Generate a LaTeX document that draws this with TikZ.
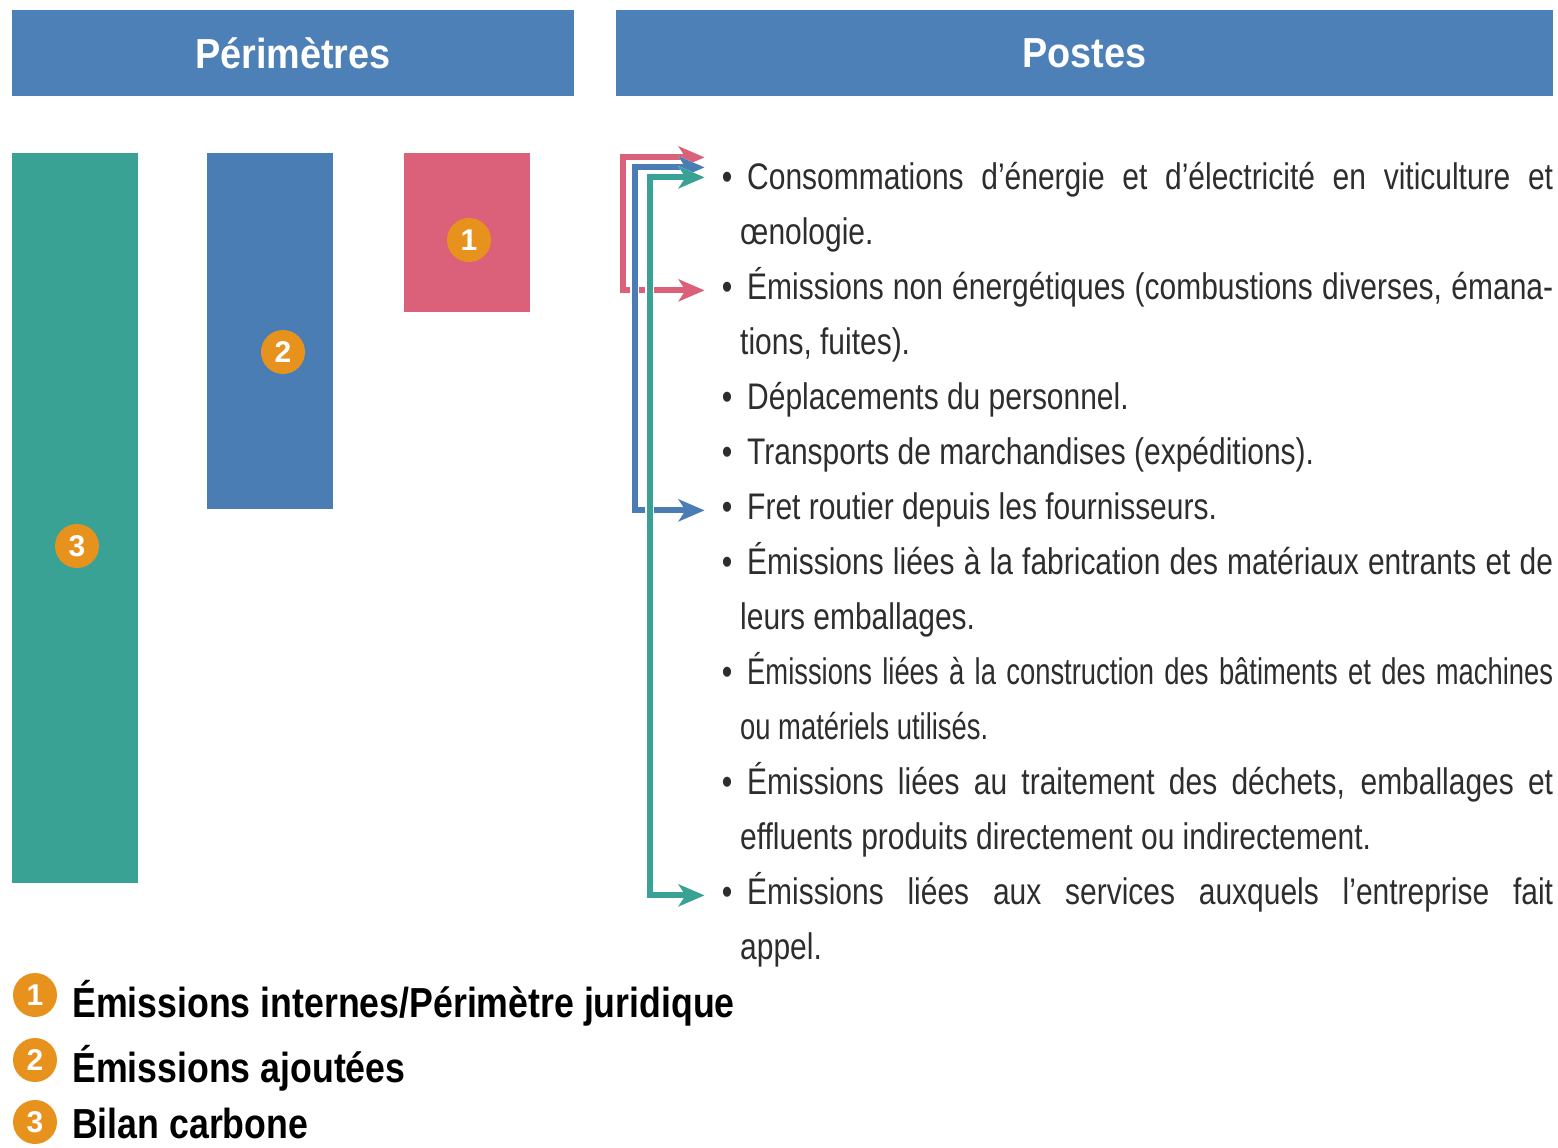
\documentclass[tikz,border=0pt]{standalone}
\usepackage{fontspec}
\setmainfont{Liberation Sans}
\newfontfamily\bodyfont[FakeStretch=0.81]{Liberation Sans}
\newfontfamily\tightfont[FakeStretch=0.74]{Liberation Sans}
\newfontfamily\headfont[FakeStretch=0.9]{Liberation Sans}
\newfontfamily\legfont[FakeStretch=0.85]{Liberation Sans}
\usetikzlibrary{arrows.meta}

\definecolor{headblue}{RGB}{77,128,183}
\definecolor{barblue}{RGB}{74,125,180}
\definecolor{barteal}{RGB}{58,161,149}
\definecolor{barpink}{RGB}{218,97,121}
\definecolor{badgeorange}{RGB}{232,146,30}
\definecolor{bodygray}{RGB}{45,45,45}

\tikzset{
  head/.style={fill=headblue, text=white, inner sep=0pt, minimum height=86pt,
    font=\headfont\bfseries\fontsize{42}{46}\selectfont},
  bar/.style={inner sep=0pt, minimum width=126pt},
  badge/.style={circle, fill=badgeorange, text=white, inner sep=0pt, minimum size=44pt,
    font=\bfseries\fontsize{30}{30}\selectfont},
  bul/.style={anchor=base, inner sep=0pt, text=bodygray, font=\bodyfont\fontsize{37}{55}\selectfont},
  poste/.style={anchor=base west, inner sep=0pt, text width=813pt, align=justify, text=bodygray,
    font=\bodyfont\fontsize{37}{55}\selectfont},
  legtext/.style={anchor=base west, inner sep=0pt, font=\legfont\bfseries\fontsize{42}{46}\selectfont},
  arr/.style={draw=#1, line width=6pt, line join=miter,
    {Stealth[length=26pt,width=22pt,inset=7pt]}-{Stealth[length=26pt,width=22pt,inset=7pt]},
    preaction={draw=white, line width=9pt}}
}

\begin{document}
\begin{tikzpicture}[x=1pt, y=-1pt]
	\useasboundingbox (0,0) rectangle (1558,1148);
	% headers
	\node[head, minimum width=562pt] (hper) at (293,53) {Périmètres};
	\node[head, minimum width=937pt] (hpos) at (1084.5,53) {Postes};
	% perimeter bars
	\node[bar, fill=barteal, minimum height=730pt] (p3) at (74.5,518) {};
	\node[bar, fill=barblue, minimum height=356pt] (p2) at (270,331) {};
	\node[bar, fill=barpink, minimum height=159pt] (p1) at (467,232.5) {};
	\node[badge] (n3) at (77,546) {3};
	\node[badge] (n2) at (283,352) {2};
	\node[badge] (n1) at (469,240) {1};
	% postes
	\foreach \n/\y/\t in {1/189/{Consommations d’énergie et d’électricité en viticulture et\linebreak œnologie.},
		2/299/{Émissions non énergétiques (combustions diverses, émana-\linebreak tions, fuites).},
		3/409/{Déplacements du personnel.},
		4/464/{Transports de marchandises (expéditions).},
		5/519/{Fret routier depuis les fournisseurs.},
		6/574/{Émissions liées à la fabrication des matériaux entrants et de\linebreak leurs emballages.},
		7/684/{\tightfont Émissions liées à la construction des bâtiments et des machines\linebreak ou matériels utilisés.},
		8/794/{Émissions liées au traitement des déchets, emballages et\linebreak effluents produits directement ou indirectement.},
		9/904/{Émissions liées aux services auxquels l’entreprise fait\linebreak appel.}} {
		\node[bul] (b\n) at (727,\y) {\textbullet};
		\node[poste] (t\n) at (740,\y) {\hyphenpenalty=10000\relax\hspace*{7pt}\t};
	}
	% arrows
	\draw[arr=barpink] ([shift={(-17pt,23pt)}]b1.west) -- ++(-82,0) |- ([xshift=-17pt]b2.west);
	\draw[arr=barblue] ([shift={(-17pt,13pt)}]b1.west) -- ++(-70,0) |- ([xshift=-17pt]b5.west);
	\draw[arr=barteal] ([shift={(-17pt,3pt)}]b1.west) -- ++(-55,0) |- ([xshift=-17pt]b9.west);
	% legend
	\foreach \n/\y/\b in {1/995/1017, 2/1060/1082, 3/1122/1138} {
		\node[badge] (l\n) at (35,\y) {\n};
	}
	\node[legtext] (lt1) at (72,1017) {Émissions internes/Périmètre juridique};
	\node[legtext] (lt2) at (72,1082) {Émissions ajoutées};
	\node[legtext] (lt3) at (72,1138) {Bilan carbone};
\end{tikzpicture}
\end{document}
